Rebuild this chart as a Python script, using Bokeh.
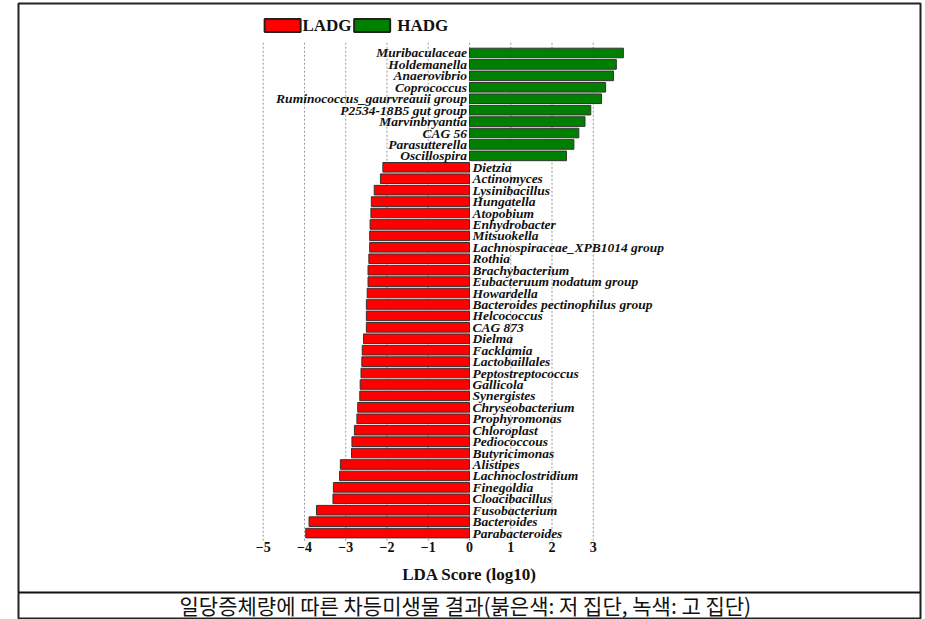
from bokeh.plotting import figure
from bokeh.models import ColumnDataSource, FixedTicker, Range1d, Span, Label
from bokeh.core.properties import value
from bokeh.embed import file_html
from bokeh.resources import INLINE

# ---- data ----
hadg_names = ["Muribaculaceae", "Holdemanella", "Anaerovibrio", "Coprococcus",
              "Ruminococcus_gaurvreauii group", "P2534-18B5 gut group",
              "Marvinbryantia", "CAG 56", "Parasutterella", "Oscillospira"]
hadg_lda = [3.73, 3.56, 3.49, 3.30, 3.20, 2.94, 2.80, 2.65, 2.53, 2.35]

ladg_names = ["Dietzia", "Actinomyces", "Lysinibacillus", "Hungatella", "Atopobium",
              "Enhydrobacter", "Mitsuokella", "Lachnospiraceae_XPB1014 group", "Rothia",
              "Brachybacterium", "Eubacteruum nodatum group", "Howardella",
              "Bacteroides pectinophilus group", "Helcococcus", "CAG 873", "Dielma",
              "Facklamia", "Lactobaillales", "Peptostreptococcus", "Gallicola",
              "Synergistes", "Chryseobacterium", "Prophyromonas", "Chloroplast",
              "Pediococcous", "Butyricimonas", "Alistipes", "Lachnoclostridium",
              "Finegoldia", "Cloacibacillus", "Fusobacterium", "Bacteroides",
              "Parabacteroides"]
ladg_lda = [-2.10, -2.16, -2.31, -2.38, -2.39, -2.41, -2.42, -2.42, -2.44, -2.46,
            -2.46, -2.48, -2.50, -2.50, -2.50, -2.57, -2.60, -2.61, -2.63, -2.65,
            -2.66, -2.71, -2.73, -2.79, -2.85, -2.86, -3.13, -3.15, -3.30, -3.31,
            -3.71, -3.89, -3.97]

tick_values = [-5, -4, -3, -2, -1, 0, 1, 2, 3]
legend_labels = ["LADG", "HADG"]
legend_colors = ["#ff0000", "#008000"]
x_title = "LDA Score (log10)"
caption = "일당증체량에 따른 차등미생물 결과(붉은색: 저 집단, 녹색: 고 집단)"

n_h = len(hadg_names)
n_l = len(ladg_names)
n = n_h + n_l

src_h = ColumnDataSource(dict(row=list(range(n_h)), name=hadg_names, lda=hadg_lda))
src_l = ColumnDataSource(dict(row=list(range(n_h, n)), name=ladg_names, lda=ladg_lda))

p = figure(width=923, height=619,
           x_range=Range1d(-10.933, 10.933), y_range=Range1d(49.56, -4.33),
           output_backend="svg", toolbar_location=None,
           y_axis_location=None,
           min_border_left=18, min_border_right=3, min_border_top=3, min_border_bottom=0)
p.outline_line_color = "#222222"
p.outline_line_width = 2
p.xgrid.visible = False
p.ygrid.visible = False

# dashed vertical gridlines
p.segment(x0=tick_values, x1=tick_values, y0=-0.9, y1=n - 0.25,
          line_color="#999999", line_width=1, line_dash="2 2")

bar_font = value("Liberation Serif")
p.hbar(y="row", left=0, right="lda", height=0.84, source=src_h,
       fill_color=legend_colors[1], line_color="#333333", line_width=1)
p.hbar(y="row", left=0, right="lda", height=0.84, source=src_l,
       fill_color=legend_colors[0], line_color="#333333", line_width=1)

p.text(x=-0.06, y="row", text="name", source=src_h, text_align="right",
       text_baseline="middle", text_font=bar_font, text_font_style="bold italic",
       text_font_size="13.5px", text_color="#111111")
p.text(x=0.07, y="row", text="name", source=src_l, text_align="left",
       text_baseline="middle", text_font=bar_font, text_font_style="bold italic",
       text_font_size="13.5px", text_color="#111111")

# legend
leg_x = [-4.53, -2.36]
leg_text_x = [-4.05, -1.75]
leg_y = -2.41
p.rect(x=leg_x, y=leg_y, width=36, height=13, width_units="screen", height_units="screen",
       fill_color=legend_colors, line_color="#222222", line_width=2)
p.text(x=leg_text_x, y=leg_y, text=legend_labels, text_align="left",
       text_baseline="middle", text_font=bar_font, text_font_style="bold",
       text_font_size="17px", text_color="#111111")

# x axis inside the frame
ax = p.xaxis[0]
ax.fixed_location = n - 0.45
ax.ticker = FixedTicker(ticks=tick_values)
ax.axis_line_color = None
ax.major_tick_line_color = None
ax.minor_tick_line_color = None
ax.major_tick_out = 0
ax.minor_tick_out = 0
ax.major_label_standoff = 3
ax.major_label_text_font = "Liberation Serif"
ax.major_label_text_font_style = "bold"
ax.major_label_text_font_size = "14px"
ax.major_label_text_color = "#111111"
ax.axis_label = x_title
ax.axis_label_standoff = 9
ax.axis_label_text_font = "Liberation Serif"
ax.axis_label_text_font_style = "bold"
ax.axis_label_text_font_size = "17px"
ax.axis_label_text_color = "#111111"

# caption separator and caption
p.add_layout(Span(location=47.2, dimension="width", line_color="#111111", line_width=2))
p.add_layout(Label(x=-0.1, y=48.25, text=caption, text_align="center",
                   text_baseline="middle", text_font="Noto Sans CJK KR",
                   text_font_size="21px", text_color="#111111"))

open("out.html", "w").write(file_html(p, INLINE))
